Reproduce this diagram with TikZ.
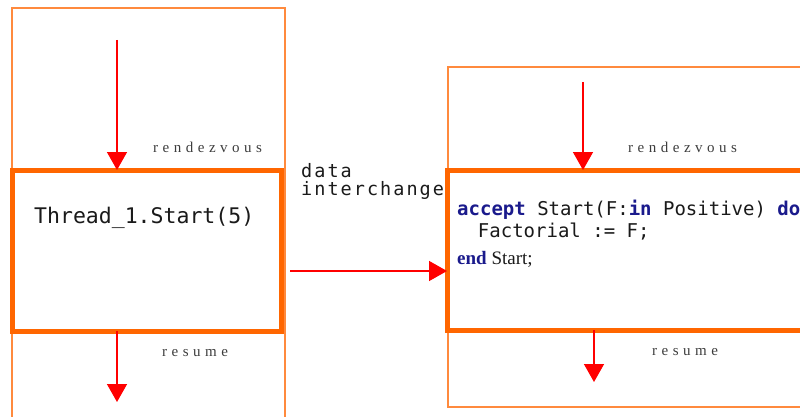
\documentclass[tikz,border=0pt]{standalone}
\usepackage{fontspec}
\setmonofont{DejaVu Sans Mono}
\newfontfamily\widemono[LetterSpace=11]{DejaVu Sans Mono}
\newfontfamily\timesfont{Liberation Serif}
\newfontfamily\spacedserif[LetterSpace=30]{Liberation Serif}
\usepackage{xcolor}
\definecolor{threadOrange}{HTML}{FF6600}
\definecolor{frameOrange}{HTML}{FF8A3D}
\definecolor{signalRed}{HTML}{FF0000}
\definecolor{keywordBlue}{HTML}{1A1A8C}
\definecolor{darkText}{HTML}{1A1A1A}
\usetikzlibrary{arrows.meta,positioning}
\newcommand{\kw}[1]{\textcolor{keywordBlue}{\bfseries #1}}
\tikzset{
    % Thin frame round each task
    task frame/.style={
        draw=frameOrange,
        line width=1.5pt,
        anchor=north west,
        inner sep=0pt,
        outer sep=0pt,
    },
    % Thick box for the entry call / accept body
    call box/.style={
        draw=threadOrange,
        line width=5pt,
        fill=white,
        anchor=north west,
        inner sep=0pt,
        outer sep=0pt,
    },
    % Monospaced code text
    code/.style={
        font=\ttfamily\fontsize{19}{19}\selectfont,
        text=darkText,
        anchor=base west,
        inner sep=0pt,
    },
    % Spaced serif captions
    event label/.style={
        font=\spacedserif\fontsize{15}{15}\selectfont,
        text=darkText!85,
        anchor=base west,
        inner sep=0pt,
    },
    % Red flow arrow
    arrow/.style={
        -{Triangle[width=20pt, length=18pt]},
        draw=signalRed,
        line width=1.5pt,
    },
}

\begin{document}
\begin{tikzpicture}[x=1pt, y=-1pt]
    \useasboundingbox (0,0) rectangle (800,417);
    \clip (0,0) rectangle (800,417);

    % calling task
    \node (caller) [task frame, minimum width=273pt, minimum height=432pt] at (12,8) {};
    \node (call) [call box, minimum width=269pt, minimum height=161pt] at (12,170) {};
    \node (callcode) [code, font=\ttfamily\fontsize{21.5}{21.5}\selectfont] at (34,223) {Thread\_1.Start(5)};
    \node (rdvA) [event label] at (153,152) {rendezvous};
    \node (resA) [event label] at (162,356) {resume};

    % accepting task
    \node (acceptor) [task frame, minimum width=372pt, minimum height=340pt] at (448,67) {};
    \node (accept) [call box, minimum width=373pt, minimum height=160pt] at (447,170) {};
    \node (line1) [code] at (457,215) {\kw{accept} Start(F:\kw{in} Positive) \kw{do}};
    \node (line2) [code] at (457,237) {\hspace{2ex}Factorial := F;};
    \node (line3) [code, font=\timesfont\fontsize{19}{19}\selectfont] at (457,264) {\kw{end} Start;};
    \node (rdvB) [event label] at (628,153) {rendezvous};
    \node (resB) [event label] at (652,355) {resume};

    % data interchange
    \node (data) [code, font=\widemono\fontsize{18.5}{18.5}\selectfont] at (301,177) {data};
    \node (interchange) [code, font=\widemono\fontsize{18.5}{18.5}\selectfont] at (301,195) {interchange};

    \coordinate (inA) at (117,40);
    \coordinate (outA) at (117,402);
    \coordinate (inB) at (583,82);
    \coordinate (outB) at (594,382);
    \coordinate (xchg) at (290,271);

    \draw [arrow] (inA) -- (inA |- call.north);
    \draw [arrow] (outA |- call.south) -- (outA);
    \draw [arrow] (inB) -- (inB |- accept.north);
    \draw [arrow] (outB |- accept.south) -- (outB);
    \draw [arrow] (xchg) -- (xchg -| accept.west);
\end{tikzpicture}
\end{document}
